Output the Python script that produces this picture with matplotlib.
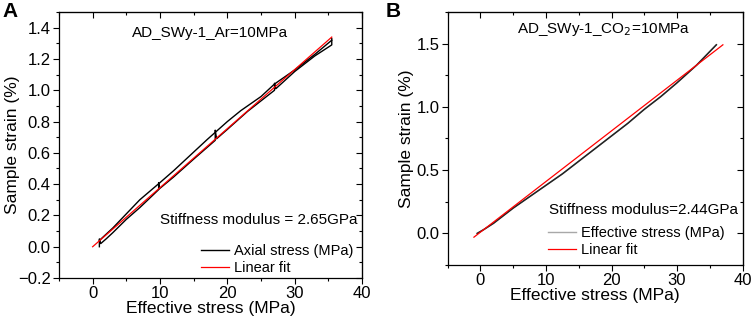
import numpy as np
import matplotlib
matplotlib.use("Agg")
import matplotlib.pyplot as plt
from matplotlib.ticker import MultipleLocator

plt.rcParams['font.family'] = ['Liberation Sans', 'DejaVu Sans']

# Panel A: Ar = 10 MPa (loading + unloading branch)
a_load_x = [1.0, 1.0, 1.2, 2.0, 3.0, 5.0, 7.0, 9.8, 9.8, 9.9, 12.0, 15.0, 18.2, 18.2, 18.4,
            20.0, 23.0, 27.0, 27.0, 27.2, 30.0, 33.0, 35.5, 35.5]
a_load_y = [0.00, 0.05, 0.02, 0.05, 0.09, 0.175, 0.25, 0.365, 0.41, 0.37, 0.445, 0.56, 0.68, 0.745, 0.69,
            0.75, 0.865, 1.00, 1.045, 1.01, 1.12, 1.22, 1.29, 1.33]
a_unld_x = [35.5, 33.0, 30.0, 27.0, 25.0, 22.0, 20.0, 17.0, 15.0, 12.0, 10.0, 7.0, 5.0, 3.0, 2.0, 1.0]
a_unld_y = [1.32, 1.23, 1.13, 1.04, 0.96, 0.87, 0.80, 0.685, 0.605, 0.485, 0.41, 0.30, 0.21, 0.12, 0.08, 0.04]
a_fit_x = [0.0, 35.5]
a_fit_y = [0.0, 1.34]

# Panel B: CO2 = 10 MPa
b_x = [-0.5, 0.5, 2.0, 5.0, 7.5, 10.0, 12.5, 15.0, 17.5, 20.0, 22.5, 25.0, 27.5, 30.0, 33.0, 36.0]
b_y = [0.00, 0.03, 0.08, 0.20, 0.29, 0.38, 0.47, 0.57, 0.67, 0.77, 0.87, 0.98, 1.08, 1.19, 1.33, 1.49]
b_fit_x = [-1.0, 37.0]
b_fit_y = [-0.03, 1.49]


def style_axes(ax, xlim, ylim, ymaj, ymin, ylab_x):
    ax.set_xlim(*xlim)
    ax.set_ylim(*ylim)
    ax.xaxis.set_major_locator(MultipleLocator(10))
    ax.xaxis.set_minor_locator(MultipleLocator(5))
    ax.yaxis.set_major_locator(MultipleLocator(ymaj))
    ax.yaxis.set_minor_locator(MultipleLocator(ymin))
    ax.tick_params(which='major', direction='out', length=4.5, width=0.8, labelsize=12, pad=1.5)
    ax.tick_params(which='minor', direction='out', length=2.5, width=0.8)
    for s in ax.spines.values():
        s.set_linewidth(0.9)
    top = ax.secondary_xaxis('top')
    top.xaxis.set_major_locator(MultipleLocator(10))
    top.xaxis.set_minor_locator(MultipleLocator(5))
    top.tick_params(which='major', direction='in', length=4.5, width=0.8, labeltop=False)
    top.tick_params(which='minor', direction='in', length=2.5, width=0.8)
    right = ax.secondary_yaxis('right')
    right.yaxis.set_major_locator(MultipleLocator(ymaj))
    right.yaxis.set_minor_locator(MultipleLocator(ymin))
    right.tick_params(which='major', direction='in', length=4.5, width=0.8, labelright=False)
    right.tick_params(which='minor', direction='in', length=2.5, width=0.8)
    ax.set_xlabel('Effective stress (MPa)', fontsize=12.5, labelpad=0)
    ax.set_ylabel('Sample strain (%)', fontsize=12.5)
    ax.yaxis.set_label_coords(ylab_x, 0.5)


fig = plt.figure(figsize=(7.54, 3.22), dpi=100)
axA = fig.add_axes([0.0782, 0.1366, 0.402, 0.826])
axB = fig.add_axes([0.5938, 0.177, 0.391, 0.786])

# Panel A
axA.plot(a_load_x, a_load_y, color='black', lw=1.0, label='Axial stress (MPa)')
axA.plot(a_unld_x, a_unld_y, color='black', lw=1.0)
axA.plot(a_fit_x, a_fit_y, color='red', lw=0.9, label='Linear fit')
style_axes(axA, (-5, 40), (-0.2, 1.5), 0.2, 0.1, -0.13)
axA.text(0.5, 0.92, 'AD_SWy-1_Ar=10MPa', transform=axA.transAxes, ha='center', va='center', fontsize=11)
axA.text(0.985, 0.218, 'Stiffness modulus = 2.65GPa', transform=axA.transAxes, ha='right', va='center', fontsize=11)
axA.legend(loc='lower left', bbox_to_anchor=(0.45, -0.01), frameon=False, fontsize=10.5,
           handlelength=1.9, handletextpad=0.35, labelspacing=0.2, borderaxespad=0.0)

# Panel B
axB.plot(b_x, b_y, color='#a8a8a8', lw=1.0, label='Effective stress (MPa)')
axB.plot(b_x, b_y, color='#222222', lw=1.1)
axB.plot(b_fit_x, b_fit_y, color='red', lw=0.9, label='Linear fit')
style_axes(axB, (-5, 40), (-0.25, 1.75), 0.5, 0.25, -0.115)
axB.text(0.53, 0.93, 'AD_SWy-1_CO$_2$=10MPa', transform=axB.transAxes, ha='center', va='center', fontsize=11)
axB.text(0.985, 0.217, 'Stiffness modulus=2.44GPa', transform=axB.transAxes, ha='right', va='center', fontsize=11)
axB.legend(loc='lower left', bbox_to_anchor=(0.32, 0.01), frameon=False, fontsize=10.5,
           handlelength=1.9, handletextpad=0.35, labelspacing=0.2, borderaxespad=0.0)

fig.text(0.003, 0.995, 'A', fontsize=15, fontweight='bold', ha='left', va='top')
fig.text(0.511, 0.995, 'B', fontsize=15, fontweight='bold', ha='left', va='top')

fig.savefig('out.png', dpi=100)
